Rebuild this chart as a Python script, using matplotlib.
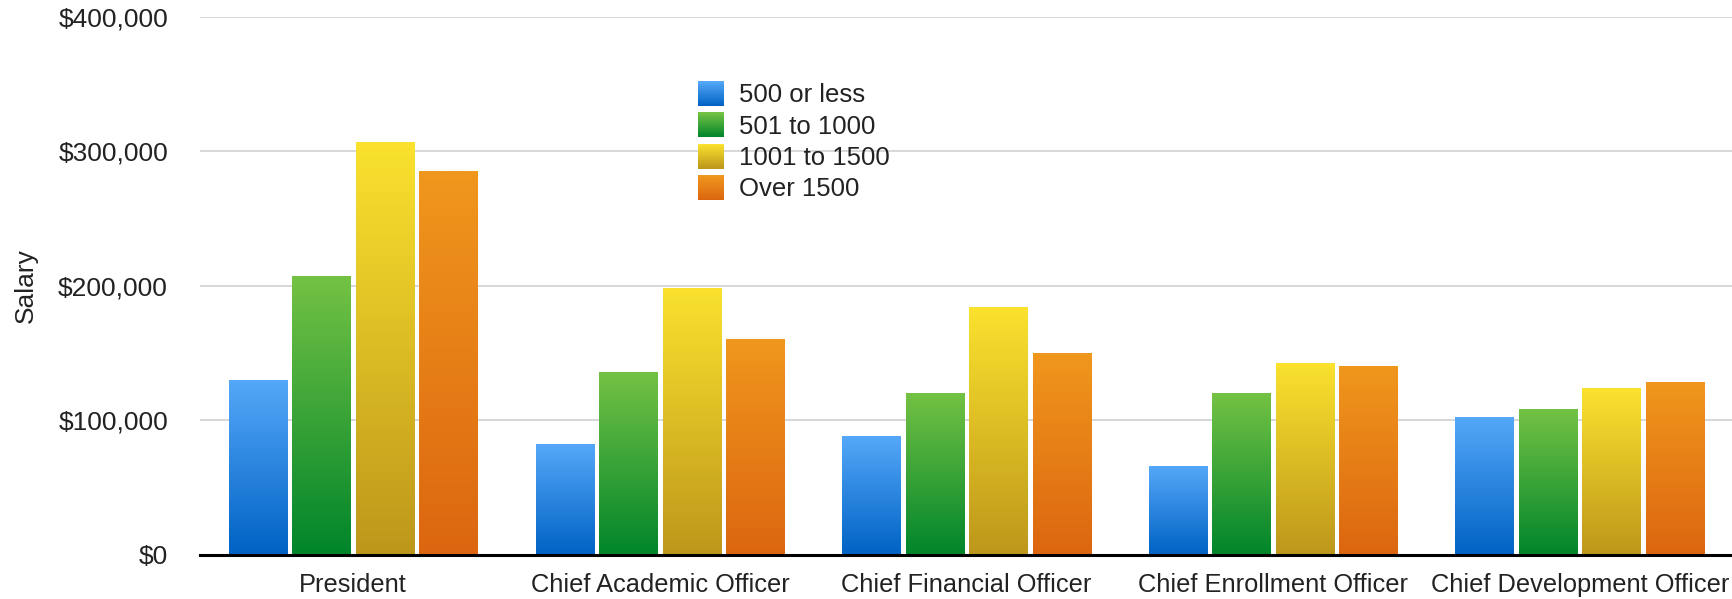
import numpy as np
import matplotlib
matplotlib.use("Agg")
import matplotlib.pyplot as plt
from matplotlib.legend_handler import HandlerBase
from matplotlib.patches import Rectangle
from matplotlib.colors import to_rgb

# ---------------- data ----------------
categories = ["President", "Chief Academic Officer", "Chief Financial Officer",
              "Chief Enrollment Officer", "Chief Development Officer"]
series_names = ["500 or less", "501 to 1000", "1001 to 1500", "Over 1500"]
s_500_or_less = [130000, 82000, 88000, 66000, 102000]
s_501_to_1000 = [207000, 136000, 120000, 120000, 108000]
s_1001_to_1500 = [307000, 198000, 184000, 142000, 124000]
s_over_1500 = [285000, 160000, 150000, 140000, 128000]
series_values = [s_500_or_less, s_501_to_1000, s_1001_to_1500, s_over_1500]
y_ticks = [0, 100000, 200000, 300000, 400000]
y_tick_labels = ["$0", "$100,000", "$200,000", "$300,000", "$400,000"]
y_label = "Salary"

# gradient colours (top, bottom)
grad_colors = [("#55A8F8", "#0062C4"),
               ("#74C244", "#00852B"),
               ("#FAE22E", "#BD971B"),
               ("#F0971D", "#DC6610")]

plt.rcParams['font.family'] = ['Liberation Sans', 'DejaVu Sans']
text_color = "#222222"

W, H = 1733, 599
fig = plt.figure(figsize=(W / 100, H / 100), dpi=100)
ax = fig.add_axes([200 / W, 1 - 554.7 / H, 1 - 200 / W, (554.7 - 16.6) / H])

x = np.arange(len(categories))
bar_w = 0.19
step = 0.207


def grad_array(top, bot, n=256):
    t = np.linspace(0, 1, n)[:, None, None]
    b = np.array(to_rgb(bot))[None, None, :]
    tp = np.array(to_rgb(top))[None, None, :]
    return b + (tp - b) * t


for i, vals in enumerate(series_values):
    top, bot = grad_colors[i]
    offs = (i - 1.5) * step
    bars = ax.bar(x + offs, vals, width=bar_w, color=bot, zorder=1.5,
                  label=series_names[i], linewidth=0)
    g = grad_array(top, bot)
    for p in bars.patches:
        x0, w, h = p.get_x(), p.get_width(), p.get_height()
        ax.imshow(g, extent=[x0, x0 + w, 0, h], origin='lower',
                  aspect='auto', zorder=1.6, interpolation='bilinear')

ax.set_xlim(-0.5, len(categories) - 0.5)
ax.set_ylim(0, 400000)
ax.set_aspect('auto')

ax.set_yticks(y_ticks)
ax.set_yticklabels(y_tick_labels)
ax.set_xticks(x)
ax.set_xticklabels(categories)
ax.tick_params(axis='y', length=0, pad=23, labelsize=19, labelcolor=text_color)
ax.tick_params(axis='x', length=0, pad=13, labelsize=18.3, labelcolor=text_color)

ax.yaxis.grid(True, color="#d4d4d4", linewidth=1.3, zorder=0)
ax.set_axisbelow(True)
for s in ["top", "right", "left"]:
    ax.spines[s].set_visible(False)
ax.spines["bottom"].set_color("black")
ax.spines["bottom"].set_linewidth(2.2)
ax.spines["bottom"].set_zorder(3)

ax.set_ylabel(y_label, fontsize=19, color=text_color)
ax.yaxis.set_label_coords(-0.106, 0.5)


class GradHandler(HandlerBase):
    def __init__(self, top, bot):
        super().__init__()
        self.top = np.array(to_rgb(top))
        self.bot = np.array(to_rgb(bot))

    def create_artists(self, legend, orig_handle, xdescent, ydescent,
                       width, height, fontsize, trans):
        n = 30
        arts = []
        for k in range(n):
            f = k / (n - 1)
            c = self.bot + (self.top - self.bot) * f
            r = Rectangle((-xdescent, -ydescent + height * k / n), width,
                          height / n * 1.08, facecolor=c, edgecolor='none',
                          transform=trans)
            arts.append(r)
        return arts


handles = [Rectangle((0, 0), 1, 1) for _ in series_names]
handler_map = {h: GradHandler(*grad_colors[i]) for i, h in enumerate(handles)}
leg = fig.legend(handles, series_names, handler_map=handler_map,
                 loc='upper left', bbox_to_anchor=(698 / W, 1 - 81 / H),
                 frameon=False, fontsize=18.5, handlelength=1.0,
                 handleheight=1.12, labelspacing=0.2, handletextpad=0.6,
                 borderpad=0, borderaxespad=0, labelcolor=text_color)

fig.savefig("out.png", dpi=100)
